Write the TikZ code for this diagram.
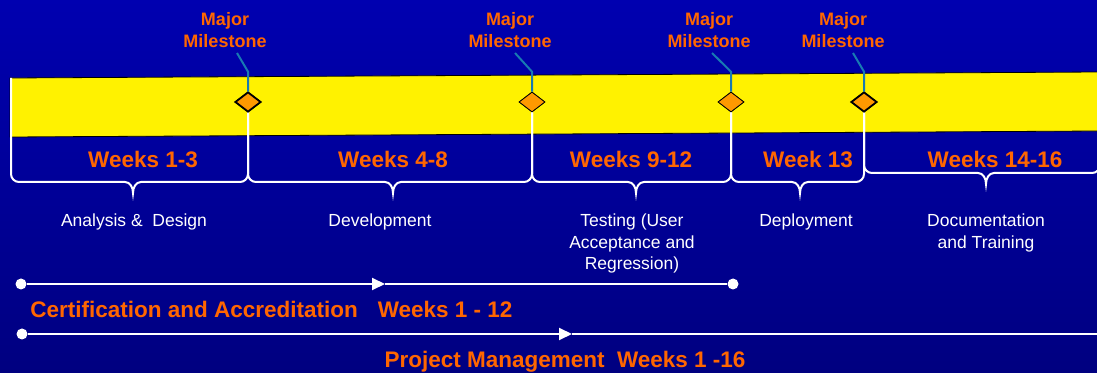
\documentclass[tikz,border=0pt]{standalone}
\usepackage{fontspec}
\setmainfont{Liberation Sans}
\usetikzlibrary{positioning, arrows.meta, shapes.geometric}
\definecolor{bgtop}{RGB}{0,0,176}
\definecolor{bgbottom}{RGB}{0,0,128}
\definecolor{phaseorange}{RGB}{255,102,0}
\definecolor{milestonefill}{RGB}{255,153,0}
\definecolor{leaderblue}{RGB}{24,122,178}

\begin{document}
\begin{tikzpicture}[x=1pt,y=1pt,semithick]
\tikzstyle{band}=[fill=yellow,draw=black,line width=0.8pt]
\tikzstyle{milestone}=[diamond,fill=milestonefill,draw=black,minimum width=26pt,minimum height=20pt,inner sep=0pt]
\tikzstyle{mlabel}=[text=phaseorange,font=\bfseries\fontsize{18}{22}\selectfont,align=center,inner sep=0pt,anchor=south]
\tikzstyle{leader}=[draw=leaderblue,line width=2pt]
\tikzstyle{brace}=[draw=white,line width=2pt]
\tikzstyle{weeks}=[text=phaseorange,font=\bfseries\fontsize{22.5}{26}\selectfont,inner sep=0pt]
\tikzstyle{phase}=[text=white,font=\fontsize{17.5}{21.5}\selectfont,align=center,inner sep=0pt,anchor=north]
\tikzstyle{dot}=[circle,fill=white,minimum size=11pt,inner sep=0pt]
\tikzstyle{track}=[draw=white,line width=2pt]

\useasboundingbox (0,0) rectangle (1097,372);
\shade[top color=bgtop,bottom color=bgbottom] (0,0) rectangle (1097,372);
\clip (0,0) rectangle (1097,372);

% schedule band
\draw[band] (10,294) -- (1100,300) -- (1100,241) -- (10,235) -- cycle;

% braces under the band
\coordinate (s0) at (11,294);
\coordinate (s5) at (1100,241);
\node[milestone] (m1) at (248,270) {};
\node[milestone] (m2) at (532,270) {};
\node[milestone] (m3) at (731,270) {};
\node[milestone] (m4) at (864,270) {};
\foreach \p/\a/\q/\b/\t/\yb in {s0/11/m1.south/248/133/190, m1.south/248/m2.south/532/393/190, m2.south/532/m3.south/731/636/190, m3.south/731/m4.south/864/800/190, m4.south/864/s5/1100/986/199} {
  \draw[brace] (\p) -- (\a,\yb+8) to[out=-90,in=180] (\a+8,\yb) -- (\t-8,\yb)
    to[out=0,in=90] (\t,\yb-11) to[out=90,in=180] (\t+8,\yb) -- (\b-8,\yb)
    to[out=0,in=-90] (\b,\yb+8) -- (\q);
}

% milestones
\foreach \i/\lx/\dx/\lw in {1/225/12/1.8, 2/510/5/0.8, 3/709/3/0.8, 4/843/10/1.8} {
  \node[milestone,line width=\lw pt] at (m\i) {};
  \node[mlabel] (ml\i) at (\lx,324) {Major\\Milestone};
  \draw[leader] (m\i.north) -- ++(0,20) -- ([shift={(\dx pt,-5pt)}]ml\i.south);
}

% week labels
\foreach \x/\w in {143/Weeks 1-3, 393/Weeks 4-8, 631/Weeks 9-12, 808/Week 13, 995/Weeks 14-16}
  \node[weeks] (w\x) at (\x,213) {\w};

% phase labels
\node[phase] (p1) at (134,158) {Analysis \&\ \ Design};
\node[phase] (p2) at (380,158) {Development};
\node[phase] (p3) at (632,158) {Testing (User\\Acceptance and\\Regression)};
\node[phase] (p4) at (806,158) {Deployment};
\node[phase] (p5) at (986,158) {Documentation\\and Training};

% certification track
\node[dot] (c1) at (21,88) {};
\node[dot] (c2) at (733,88) {};
\coordinate (c1m) at (385,88);
\draw[track,-{Triangle[length=13pt,width=12pt]}] (c1) -- (c1m);
\draw[track] (c1m) -- (c2);
\node[weeks,anchor=base west] (cert) at (30,54) {Certification and Accreditation\hspace{20pt}Weeks 1 - 12};

% project management track
\node[dot] (d1) at (22,38) {};
\coordinate (d1m) at (572,38);
\coordinate (d2) at (1100,38);
\draw[track,-{Triangle[length=13pt,width=12pt]}] (d1) -- (d1m);
\draw[track] (d1m) -- (d2);
\node[weeks,anchor=base] (pm) at (565,5) {Project Management\ \ Weeks 1 -16};
\end{tikzpicture}
\end{document}
